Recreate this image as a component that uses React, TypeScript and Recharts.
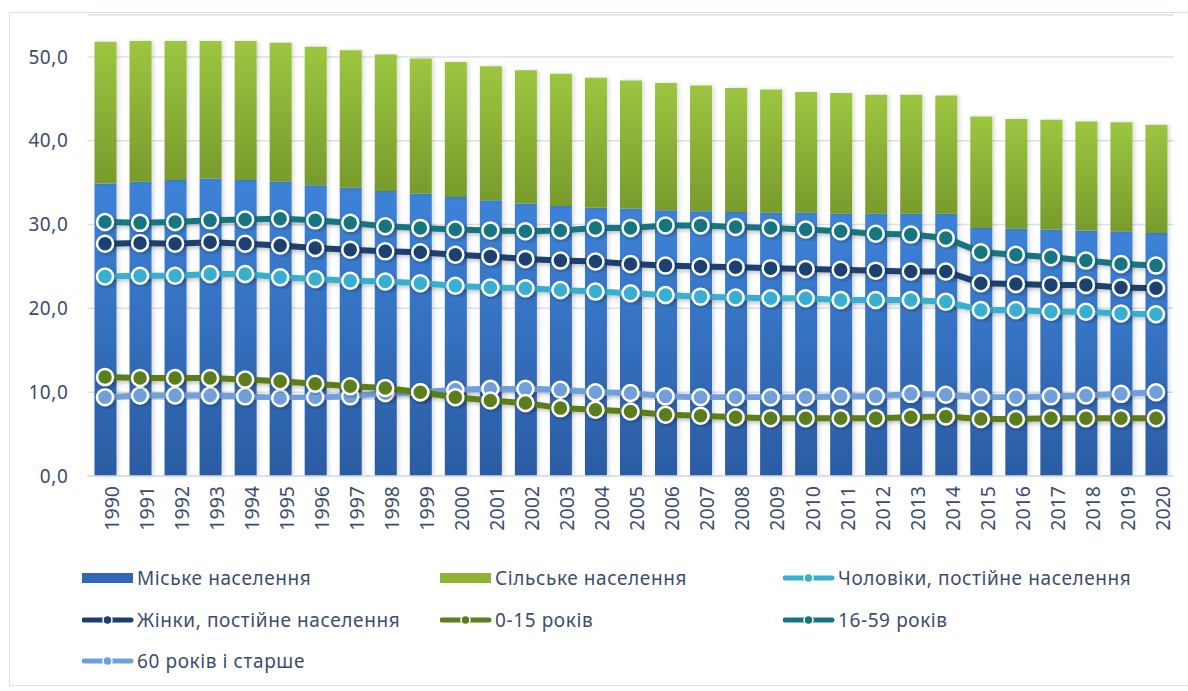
import React from 'react';
import { ComposedChart, Bar, Line, XAxis, YAxis, CartesianGrid } from 'recharts';

const years = [
  '1990', '1991', '1992', '1993', '1994', '1995', '1996', '1997', '1998', '1999', '2000',
  '2001', '2002', '2003', '2004', '2005', '2006', '2007', '2008', '2009', '2010',
  '2011', '2012', '2013', '2014', '2015', '2016', '2017', '2018', '2019', '2020',
];

const urban = [
  34.9, 35.1, 35.3, 35.5, 35.3, 35.1, 34.7, 34.4, 34.0, 33.7, 33.3,
  32.9, 32.5, 32.2, 32.0, 31.9, 31.7, 31.6, 31.5, 31.4, 31.4,
  31.3, 31.3, 31.3, 31.3, 29.6, 29.5, 29.4, 29.3, 29.2, 29.0,
];

const rural = [
  16.9, 16.8, 16.6, 16.4, 16.6, 16.6, 16.5, 16.4, 16.3, 16.1, 16.1,
  16.0, 15.9, 15.8, 15.5, 15.3, 15.2, 15.0, 14.8, 14.7, 14.4,
  14.4, 14.2, 14.2, 14.1, 13.3, 13.1, 13.1, 13.0, 13.0, 12.9,
];

const men = [
  23.8, 23.9, 23.9, 24.1, 24.1, 23.7, 23.5, 23.3, 23.2, 23.0, 22.7,
  22.5, 22.4, 22.2, 22.0, 21.8, 21.6, 21.4, 21.3, 21.2, 21.2,
  21.0, 21.0, 21.0, 20.8, 19.8, 19.8, 19.6, 19.6, 19.4, 19.3,
];

const women = [
  27.7, 27.8, 27.7, 27.9, 27.7, 27.5, 27.2, 27.0, 26.8, 26.7, 26.4,
  26.2, 25.9, 25.7, 25.6, 25.3, 25.1, 25.0, 24.9, 24.8, 24.7,
  24.6, 24.5, 24.4, 24.4, 23.0, 22.9, 22.8, 22.8, 22.5, 22.4,
];

const age0to15 = [
  11.8, 11.7, 11.7, 11.7, 11.5, 11.3, 11.0, 10.7, 10.5, 10.0, 9.4,
  9.0, 8.7, 8.1, 7.9, 7.7, 7.3, 7.2, 7.0, 6.9, 6.9,
  6.9, 6.9, 7.0, 7.1, 6.8, 6.8, 6.9, 6.9, 6.9, 6.9,
];

const age16to59 = [
  30.3, 30.2, 30.3, 30.5, 30.6, 30.7, 30.5, 30.2, 29.8, 29.6, 29.4,
  29.3, 29.2, 29.3, 29.6, 29.6, 29.9, 29.9, 29.7, 29.6, 29.4,
  29.2, 28.9, 28.8, 28.4, 26.7, 26.4, 26.1, 25.7, 25.3, 25.1,
];

const age60plus = [
  9.4, 9.6, 9.6, 9.6, 9.5, 9.3, 9.4, 9.5, 9.9, 10.0, 10.3,
  10.4, 10.4, 10.3, 10.0, 9.9, 9.5, 9.4, 9.4, 9.4, 9.4,
  9.5, 9.5, 9.8, 9.7, 9.4, 9.4, 9.5, 9.6, 9.8, 10.0,
];

const yTicks = [0, 10, 20, 30, 40, 50];

const data = years.map((year, i) => ({
  year,
  urban: urban[i],
  rural: rural[i],
  men: men[i],
  women: women[i],
  age0to15: age0to15[i],
  age16to59: age16to59[i],
  age60plus: age60plus[i],
}));

const textColor = '#3d4d6d';
const font = '"Noto Sans", "Open Sans", sans-serif';

const lines = [
  { key: 'age60plus', name: '60 років і старше', color: '#6f9fdb' },
  { key: 'age0to15', name: '0-15 років', color: '#5b7d1c' },
  { key: 'men', name: 'Чоловіки, постійне населення', color: '#37afd0' },
  { key: 'women', name: 'Жінки, постійне населення', color: '#1c3f70' },
  { key: 'age16to59', name: '16-59 років', color: '#167580' },
];

const legendRows = [
  [
    { type: 'rect', name: 'Міське населення', color: '#2f68b8' },
    { type: 'rect', name: 'Сільське населення', color: '#8cb538' },
    { type: 'line', name: 'Чоловіки, постійне населення', color: '#37afd0' },
  ],
  [
    { type: 'line', name: 'Жінки, постійне населення', color: '#1c3f70' },
    { type: 'line', name: '0-15 років', color: '#5b7d1c' },
    { type: 'line', name: '16-59 років', color: '#167580' },
  ],
  [{ type: 'line', name: '60 років і старше', color: '#6f9fdb' }],
];

const columnX = [82, 440, 783];

const LegendMarker = ({ type, color }: { type: string; color: string }) =>
  type === 'rect' ? (
    <svg width={52} height={12} style={{ display: 'block' }}>
      <rect x={0} y={1} width={51} height={10} fill={color} />
    </svg>
  ) : (
    <svg width={52} height={12} style={{ display: 'block' }}>
      <line x1={2} y1={6} x2={49} y2={6} stroke={color} strokeWidth={5} strokeLinecap="round" />
      <circle cx={25.5} cy={6} r={4.5} fill={color} stroke="#ffffff" strokeWidth={1.5} />
    </svg>
  );

const ChartLegend = () => (
  <div style={{ position: 'absolute', left: 0, top: 566, width: 1188, height: 120 }}>
    {legendRows.map((row, r) =>
      row.map((item, c) => (
        <div
          key={item.name}
          style={{
            position: 'absolute',
            left: columnX[c],
            top: r * 41.5,
            display: 'flex',
            alignItems: 'center',
            height: 24,
            fontFamily: font,
            fontSize: 19,
            letterSpacing: 0.6,
            color: textColor,
            whiteSpace: 'nowrap',
          }}
        >
          <LegendMarker type={item.type} color={item.color} />
          <span style={{ marginLeft: 3 }}>{item.name}</span>
        </div>
      ))
    )}
  </div>
);

const App = () => {
  return (
    <div style={{ position: 'absolute', left: 0, top: 0, width: 1188, height: 691, background: '#ffffff', overflow: 'hidden' }}>
      <div
        style={{
          position: 'absolute',
          left: 9,
          top: 12,
          width: 1200,
          height: 672,
          border: '1px solid #d7e0ec',
        }}
      />
      <ComposedChart
        width={1188}
        height={691}
        data={data}
        margin={{ top: 15, right: 14.5, left: 0, bottom: 0 }}
        barSize={22}
        style={{ position: 'absolute', left: 0, top: 0 }}
      >
        <defs>
          <linearGradient id="urbanFill" x1="0" y1="0" x2="0" y2="1">
            <stop offset="0%" stopColor="#3d83d9" />
            <stop offset="100%" stopColor="#2b5ca3" />
          </linearGradient>
          <linearGradient id="ruralFill" x1="0" y1="0" x2="0" y2="1">
            <stop offset="0%" stopColor="#9cc640" />
            <stop offset="100%" stopColor="#789b2c" />
          </linearGradient>
          <filter id="shadow" x="-20%" y="-20%" width="140%" height="140%">
            <feDropShadow dx="2" dy="2" stdDeviation="2" floodColor="#000000" floodOpacity="0.25" />
          </filter>
          <filter id="barShadow" x="-30%" y="-5%" width="160%" height="110%">
            <feDropShadow dx="2" dy="0" stdDeviation="2" floodColor="#000000" floodOpacity="0.15" />
          </filter>
        </defs>
        <CartesianGrid vertical={false} stroke="#dcdfe6" strokeWidth={1.5} />
        <XAxis
          dataKey="year"
          interval={0}
          angle={-90}
          textAnchor="end"
          tickLine={false}
          axisLine={{ stroke: '#d9dde4', strokeWidth: 1.5 }}
          tickMargin={11}
          tick={{ fill: textColor, fontSize: 19.5, fontFamily: font, dy: -7 }}
          height={215}
        />
        <YAxis
          domain={[0, 55]}
          ticks={yTicks}
          width={87.5}
          tickLine={false}
          axisLine={false}
          tickSize={0}
          tickMargin={19}
          tickFormatter={(v: number) => v.toFixed(1).replace('.', ',')}
          tick={{ fill: textColor, fontSize: 19, fontFamily: font, letterSpacing: 0.6 }}
        />
        <Bar dataKey="urban" name="Міське населення" stackId="pop" fill="url(#urbanFill)" filter="url(#barShadow)" isAnimationActive={false} />
        <Bar dataKey="rural" name="Сільське населення" stackId="pop" fill="url(#ruralFill)" filter="url(#barShadow)" isAnimationActive={false} />
        {lines.map((l) => (
          <Line
            key={l.key}
            dataKey={l.key}
            name={l.name}
            type="linear"
            stroke={l.color}
            strokeWidth={6}
            filter="url(#shadow)"
            dot={{ r: 8, fill: l.color, stroke: '#ffffff', strokeWidth: 2.5 }}
            activeDot={false}
            isAnimationActive={false}
          />
        ))}
      </ComposedChart>
      <ChartLegend />
    </div>
  );
};

export default App;
